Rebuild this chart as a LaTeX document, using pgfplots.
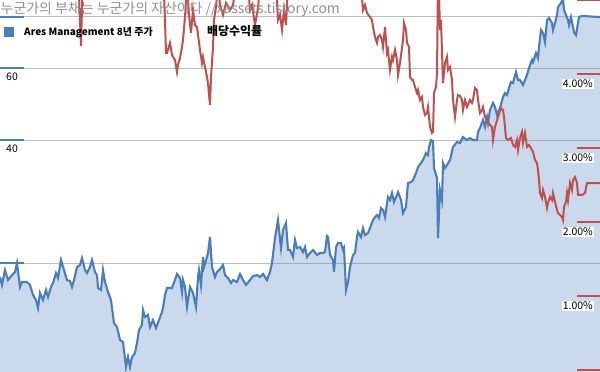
\documentclass[border=0pt]{standalone}
\usepackage{pgfplots}
\usepackage{pgfplotstable}
\pgfplotsset{compat=1.18}
\usepackage{fontspec}
\setmainfont{Noto Sans CJK KR}
\definecolor{bl}{RGB}{74,126,187}
\definecolor{fillb}{RGB}{79,129,189}
\definecolor{rd}{RGB}{192,80,77}
\definecolor{gridc}{RGB}{191,191,191}
\definecolor{wm}{RGB}{145,145,145}

\pgfplotstableread{
x v
0 18.50
2 17.69
5 19.24
8 18.19
12 18.71
15 19.03
17 20.02
20 17.49
22 17.99
27 17.99
30 17.69
33 16.72
36 16.25
38 15.54
40 16.91
43 16.25
46 17.20
48 16.53
51 17.49
53 17.89
56 18.92
58 18.40
61 20.36
64 19.24
67 18.19
70 18.09
72 17.49
74 18.19
77 19.57
80 19.79
82 20.59
85 19.24
87 18.92
90 19.57
92 20.36
95 19.03
97 18.71
98 17.39
101 17.20
103 19.24
105 17.99
108 17.00
111 16.25
114 14.28
117 13.96
120 12.98
123 12.83
126 11.15
128 11.79
130 11.15
132 11.79
135 12.06
137 12.76
139 13.73
142 14.12
143 15.36
145 14.77
148 14.94
150 13.96
153 14.52
156 13.88
159 14.52
162 15.19
163 15.54
165 16.72
167 17.39
172 17.39
175 18.19
177 18.82
180 18.40
182 17.00
183 18.19
185 17.49
187 15.63
190 17.49
193 16.91
196 15.63
198 18.50
199 19.24
201 17.69
203 20.71
204 19.57
207 20.71
208 21.18
210 23.17
212 19.57
215 18.50
217 19.03
220 19.35
223 19.79
225 18.71
228 18.40
231 17.89
233 18.19
237 17.99
240 18.82
243 18.19
246 17.69
250 18.19
253 18.60
257 18.71
260 18.50
263 18.82
267 18.19
270 19.03
272 20.02
275 23.04
278 25.50
281 21.78
283 24.10
286 25.07
288 21.54
290 21.54
293 20.71
295 22.78
297 21.78
300 21.90
303 21.30
305 21.90
307 20.71
310 21.18
313 21.54
317 20.94
320 21.18
323 21.18
325 21.30
327 23.30
328 23.17
330 20.94
333 20.36
334 19.03
336 21.90
338 22.40
341 22.40
343 21.54
344 21.78
346 17.20
348 17.99
350 19.57
353 20.94
355 21.18
357 23.17
358 23.83
361 23.17
363 24.38
365 23.43
368 23.70
370 24.38
373 25.50
375 25.93
377 26.23
379 25.79
381 27.28
383 26.98
385 25.93
388 29.02
390 28.54
392 29.69
394 28.22
397 29.35
398 29.85
401 28.54
403 26.52
406 27.44
408 31.40
411 31.58
413 31.94
416 33.22
418 34.36
421 35.15
423 35.75
426 37.18
428 36.77
429 38.46
431 40.00
433 39.78
434 34.17
437 32.30
438 23.04
440 30.19
442 28.54
443 35.15
445 34.17
447 34.75
450 35.75
453 38.46
457 39.56
460 39.34
463 40.69
467 40.00
470 40.46
473 40.00
477 40.00
478 41.85
480 42.80
483 44.77
485 43.04
487 45.54
488 44.02
490 47.37
493 49.27
495 48.17
497 46.05
500 47.90
503 50.96
505 52.12
507 51.54
509 53.61
511 55.45
513 55.14
516 58.66
518 56.08
520 56.08
523 54.52
525 56.08
527 57.68
529 60.00
532 62.76
533 62.06
536 65.29
538 63.47
539 67.53
541 74.31
543 73.07
545 69.46
547 78.62
549 79.51
552 77.30
553 74.31
555 77.30
557 80.86
558 84.58
561 86.51
563 88.50
564 83.17
566 80.86
568 78.62
569 76.43
571 79.96
573 75.58
574 73.48
576 72.25
578 77.30
579 79.96
582 80.41
600 79.96
}\pricedata

\pgfplotstableread{
x p
0 6.5
78 5.4
81 4.378
83 5.4
160 5.4
164 5.07
165 4.730
166 4.284
167 4.284
170 4.419
172 4.257
175 4.189
177 4.027
178 4.122
180 4.216
182 4.365
183 4.459
185 4.770
187 5.2
189 4.797
191 4.554
193 4.865
195 4.662
197 4.635
200 4.324
202 4.149
203 4.230
205 4.095
207 3.959
208 3.878
210 3.581
211 3.959
213 4.365
214 4.730
216 4.905
218 5.2
220 4.932
223 4.797
226 4.96
230 4.865
233 4.932
236 5.2
248 5.2
250 4.865
252 4.932
255 4.662
258 4.892
260 5.2
276 5.2
278 4.730
280 4.797
282 4.595
284 4.865
286 4.662
288 5.2
361 5.2
363 4.865
365 4.932
367 4.824
370 4.770
372 4.730
373 4.635
375 4.500
377 4.419
378 4.500
380 4.527
382 4.459
383 4.365
385 4.635
387 4.284
388 4.324
390 4.054
392 4.230
393 4.189
395 4.324
397 4.189
398 3.986
400 4.149
403 4.459
404 4.689
406 4.595
407 4.419
409 4.365
410 3.959
412 3.919
413 3.919
415 3.824
417 3.743
418 3.784
420 3.649
422 3.689
423 3.554
425 3.446
427 3.473
428 3.554
430 3.284
432 3.203
433 3.216
434 3.743
436 3.824
437 4.014
438 5.3
439 5.1
440 4.595
441 4.730
443 3.878
445 4.149
447 4.230
448 4.054
450 4.095
452 3.919
453 3.649
455 3.419
457 3.649
458 3.716
460 3.703
462 3.649
463 3.514
465 3.649
467 3.554
470 3.649
472 3.608
473 3.649
475 3.811
477 3.784
478 3.649
480 3.473
482 3.514
483 3.554
485 3.419
488 3.351
490 3.311
492 3.284
493 3.108
495 3.284
498 3.419
501 3.541
503 3.514
504 3.419
506 3.135
508 3.108
511 3.135
513 3.041
515 3.014
517 3.108
518 2.973
520 3.135
522 3.216
523 3.068
525 3.203
527 3.014
529 3.041
532 2.973
533 2.946
535 2.838
537 2.797
538 2.703
539 2.568
540 2.392
542 2.324
543 2.432
545 2.338
547 2.189
548 2.257
550 2.338
552 2.297
553 2.392
555 2.270
557 2.162
558 2.122
560 2.095
562 2.068
563 2.027
564 2.203
566 2.270
567 2.392
568 2.297
570 2.527
572 2.432
573 2.568
575 2.608
577 2.527
578 2.365
582 2.365
585 2.392
587 2.527
600 2.527
}\yielddata

\begin{document}
\begin{tikzpicture}
\begin{axis}[
  scale only axis, width=600bp, height=371bp,
  xmin=0, xmax=600,
  ymode=log, ymin=10.9, ymax=88.0,
  axis line style={draw=none},
  xtick=\empty,
  ytick={20,40,60,80}, yticklabels={,40,60,},
  minor tick num=0,
  ytick pos=left,
  ymajorgrids, grid style={gridc, line width=0.9bp},
  tick align=inside, major tick length=24bp,
  ytick style={bl, line width=2.4bp},
  yticklabel style={anchor=north west, xshift=2.5bp, yshift=-1bp, inner sep=3.5bp,
    font=\fontsize{10.5}{12}\selectfont},
]
\addplot[draw=none, fill=fillb, fill opacity=0.3] table[x=x, y=v] {\pricedata} \closedcycle;
\addplot[bl, line width=2.1bp] table[x=x, y=v] {\pricedata};
\end{axis}
\begin{axis}[
  scale only axis, width=600bp, height=371bp,
  xmin=0, xmax=600,
  ymin=-0.0135, ymax=5.0,
  axis x line=none, axis y line*=right,
  axis line style={draw=none},
  ytick={0,1,2,3,4,5}, yticklabels={,1.00\%,2.00\%,3.00\%,4.00\%,},
  tick align=inside, major tick length=23bp,
  ytick style={rd, line width=2.2bp},
  yticklabel style={anchor=north east, xshift=-6bp, yshift=-4.5bp, inner sep=1bp,
    fill=white, font=\fontsize{10.5}{12}\selectfont},
]
\addplot[rd, line width=2bp] table[x=x, y=p] {\yielddata};
\end{axis}
\node[anchor=west, inner sep=0, text=wm, font=\fontsize{14}{16}\selectfont]
  at ([xshift=0.5bp,yshift=-9bp]current axis.north west) {누군가의 부채는 누군가의 자산이다 //xassets.tistory.com};
\fill[bl] ([xshift=4bp,yshift=-27bp]current axis.north west) rectangle ++(10bp,-10bp);
\node[anchor=west, inner sep=0, font=\bfseries\fontsize{10}{12}\selectfont]
  at ([xshift=24bp,yshift=-32bp]current axis.north west) {Ares Management 8년 주가};
\node[anchor=west, inner sep=0, font=\bfseries\fontsize{12}{14}\selectfont]
  at ([xshift=207bp,yshift=-31.5bp]current axis.north west) {배당수익률};
\pgfresetboundingbox
\useasboundingbox (current axis.south west) rectangle (current axis.north east);
\end{tikzpicture}
\end{document}
